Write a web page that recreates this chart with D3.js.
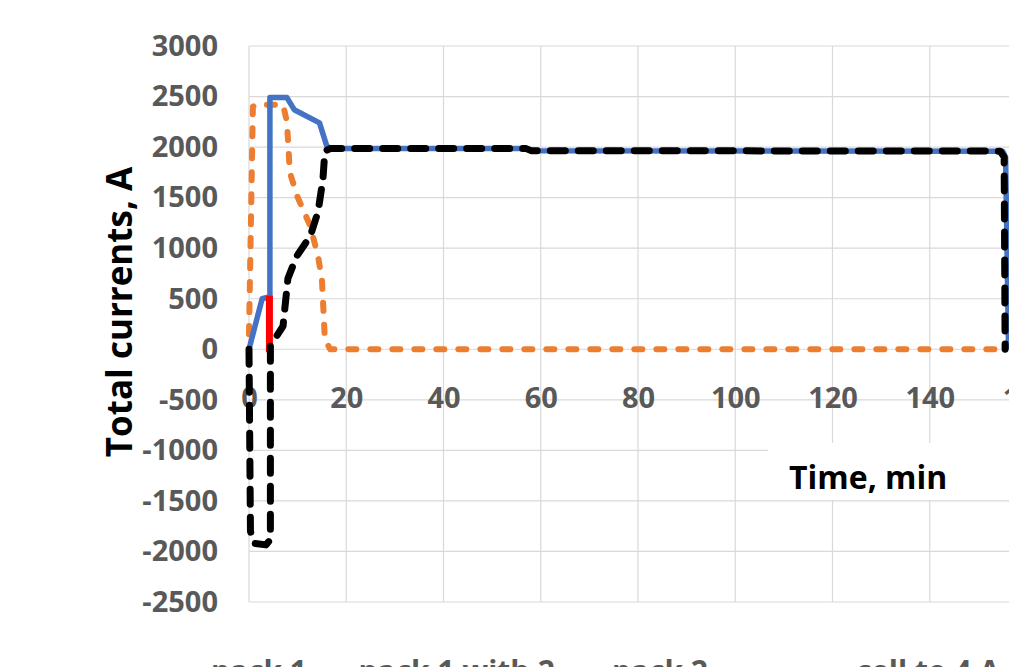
<!DOCTYPE html>
<html>
<head>
<meta charset="utf-8">
<script src="https://cdn.jsdelivr.net/npm/d3@7"></script>
<style>
  body { margin: 0; background: #fff; }
  svg { display: block; font-family: "Open Sans", sans-serif; }
</style>
</head>
<body>
<div id="chart"></div>
<script>
// total currents vs time, four traces

var width = 1009, height = 667;

// time (min) and current (A) for each trace
var orangeT = [0, 0.8, 1.6, 7, 7.8, 8.4, 9.9, 12.6, 14.2, 15, 15.6, 16.7, 155.5];
var orangeV = [150, 2400, 2420, 2420, 2250, 1750, 1515, 1220, 920, 690, 100, 0, 0];

var blueT = [0, 2.7, 4.3, 4.3, 7.8, 9.3, 14.5, 16, 17, 57, 58, 155, 155.6, 156.2];
var blueV = [0, 500, 520, 2490, 2490, 2370, 2240, 2010, 1985, 1985, 1965, 1960, 1900, 0];

var redT = [4.2, 4.2];
var redV = [530, -30];

var blackT = [0, 0.3, 1, 3.5, 4.4, 4.4, 5, 7, 8, 9.8, 12.6, 14.2, 15.2, 15.6, 16.7, 57, 58, 154.5, 155.3, 155.5];
var blackV = [0, -1800, -1920, -1935, -1880, 40, 80, 230, 700, 920, 1120, 1360, 1680, 1960, 1985, 1985, 1965, 1960, 1900, 0];

var xTicks = [0, 20, 40, 60, 80, 100, 120, 140, 160];
var yTicks = [3000, 2500, 2000, 1500, 1000, 500, 0, -500, -1000, -1500, -2000, -2500];

var legendNames = ["pack 1", "pack 1 with 2", "pack 2", "cell to 4 A"];
var legendColors = ["#ED7D31", "#FF0000", "#000000", "#4472C4"];

var svg = d3.select("div#chart")
    .append("svg")
    .attr("width", width)
    .attr("height", height);

var x = d3.scaleLinear().domain([0, 160]).range([249, 1027]);
var y = d3.scaleLinear().domain([-2500, 3000]).range([602, 46]);

// gridlines
svg.append("g")
    .selectAll("line.h")
    .data(yTicks)
    .enter().append("line")
    .attr("x1", x(0)).attr("x2", x(160))
    .attr("y1", (d) => y(d)).attr("y2", (d) => y(d))
    .attr("stroke", "#d9d9d9").attr("stroke-width", 1.2);

svg.append("g")
    .selectAll("line.v")
    .data(xTicks)
    .enter().append("line")
    .attr("x1", (d) => x(d)).attr("x2", (d) => x(d))
    .attr("y1", y(3000)).attr("y2", y(-2500))
    .attr("stroke", "#d9d9d9").attr("stroke-width", 1.2);

// y tick labels
var yAxis = svg.append("g")
    .attr("transform", "translate(" + (x(0) - 31) + ",0)")
    .call(d3.axisLeft(y).tickValues(yTicks).tickSize(0).tickPadding(0)
          .tickFormat((d) => String(d)));
yAxis.select(".domain").remove();
yAxis.selectAll("text")
    .attr("font-family", "Open Sans").attr("font-weight", 700)
    .attr("font-size", 29).attr("fill", "#595959");

// x tick labels sit at the -500 level, next to the zero axis
var xAxis = svg.append("g")
    .attr("transform", "translate(0," + (y(-500) - 12) + ")")
    .call(d3.axisBottom(x).tickValues(xTicks).tickSize(0).tickPadding(0)
          .tickFormat((d) => String(d)));
xAxis.select(".domain").remove();
xAxis.selectAll("text")
    .attr("font-family", "Open Sans").attr("font-weight", 700)
    .attr("font-size", 29).attr("fill", "#595959");

// axis titles
svg.append("text")
    .attr("transform", "translate(132,312) rotate(-90)")
    .attr("text-anchor", "middle")
    .attr("font-weight", 700).attr("font-size", 35)
    .attr("fill", "#000")
    .text("Total currents, A");

svg.append("rect")
    .attr("x", 768).attr("y", 443)
    .attr("width", 260).attr("height", 57)
    .attr("fill", "#fff");
svg.append("text")
    .attr("x", 789).attr("y", 489)
    .attr("font-weight", 700).attr("font-size", 32)
    .attr("fill", "#000")
    .text("Time, min");

// series
var line = d3.line()
    .x((d) => x(d[0]))
    .y((d) => y(d[1]));

function pairs(ts, vs) {
    return ts.map((t, i) => [t, vs[i]]);
}

var plot = svg.append("g");

plot.append("path")
    .attr("d", line(pairs(orangeT, orangeV)))
    .attr("fill", "none").attr("stroke", "#ED7D31")
    .attr("stroke-width", 6).attr("stroke-dasharray", "8,14")
    .attr("stroke-linecap", "round").attr("stroke-linejoin", "round");

plot.append("path")
    .attr("d", line(pairs(blueT, blueV)))
    .attr("fill", "none").attr("stroke", "#4472C4")
    .attr("stroke-width", 5.5)
    .attr("stroke-linejoin", "round");

plot.append("path")
    .attr("d", line(pairs(redT, redV)))
    .attr("fill", "none").attr("stroke", "#FF0000")
    .attr("stroke-width", 7);

plot.append("path")
    .attr("d", line(pairs(blackT, blackV)))
    .attr("fill", "none").attr("stroke", "#000")
    .attr("stroke-width", 7).attr("stroke-dasharray", "15,13")
    .attr("stroke-linecap", "round").attr("stroke-linejoin", "round");

// legend, running off the bottom edge like the reference
var legendEnd = [307, 555, 708, 1000];
var legend = svg.append("g");
legendNames.forEach((name, i) => {
    var t = legend.append("text")
        .attr("x", legendEnd[i]).attr("y", 682)
        .attr("text-anchor", "end")
        .attr("font-weight", 700).attr("font-size", 30)
        .attr("fill", "#595959")
        .text(name);
    var w = t.node().getComputedTextLength();
    legend.append("line")
        .attr("x1", legendEnd[i] - w - 65).attr("x2", legendEnd[i] - w - 8)
        .attr("y1", 674).attr("y2", 674)
        .attr("stroke", legendColors[i]).attr("stroke-width", 5);
});
</script>
</body>
</html>
